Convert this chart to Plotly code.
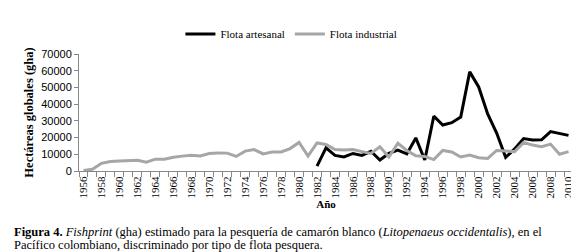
import plotly.graph_objects as go

years = list(range(1956, 2011))
industrial = [300, 1000, 4600, 5700, 6000, 6000, 6400, 5300, 7100, 7000,
              8200, 8900, 9400, 9000, 10500, 10800, 10700, 8700, 11900, 12800,
              10200, 11400, 11400, 13400, 17100, 8900, 16800, 15900, 12800, 12500,
              12800, 11600, 10500, 14500, 8400, 16600, 12300, 9100, 8700, 6800,
              12300, 11400, 8400, 9600, 7900, 7500, 12300, 11900, 11600, 17100,
              15500, 14500, 16100, 10000, 11600]
art_years = list(range(1982, 2011))
artesanal = [2900, 13800, 9300, 8400, 10500, 9300, 11800, 6600, 10500, 12500,
             10200, 19800, 6600, 32800, 27500, 28900, 32300, 59300, 50300, 34100,
             22700, 8200, 13200, 19400, 18600, 18700, 23600, 22300, 21300]
y_ticks = [0, 10000, 20000, 30000, 40000, 50000, 60000, 70000]
y_labels = [str(v) for v in y_ticks]
caption_1 = ("<b>Figura 4.</b> <i>Fishprint</i> (gha) estimado para la pesquería de camarón blanco "
             "(<i>Litopenaeus occidentalis</i>), en el")
caption_2 = "Pacífico colombiano, discriminado por tipo de flota pesquera."

serif = "Liberation Serif"
sans = "Liberation Sans"

fig = go.Figure()
fig.add_trace(go.Scatter(x=art_years, y=artesanal, mode="lines", name="Flota artesanal",
                         line=dict(color="#000000", width=3)))
fig.add_trace(go.Scatter(x=years, y=industrial, mode="lines", name="Flota industrial",
                         line=dict(color="#A6A6A6", width=3)))

fig.update_layout(
    width=579, height=252,
    margin=dict(l=71, r=14, t=32, b=89),
    paper_bgcolor="white", plot_bgcolor="white",
    showlegend=True,
    legend=dict(orientation="h", x=0.43, xanchor="center", y=1.17, yanchor="middle",
                font=dict(family=serif, size=11, color="black"),
                itemwidth=30, tracegroupgap=0, bgcolor="rgba(0,0,0,0)"),
    xaxis=dict(range=[1955.5, 2010.5], tickmode="linear", tick0=1956, dtick=2,
               tickangle=-90, ticks="", showgrid=False, zeroline=False,
               showline=True, linecolor="#888888", linewidth=1,
               tickfont=dict(family=serif, size=11, color="black"),
               minor=dict(ticks="outside", tick0=1955.5, dtick=1, ticklen=5,
                          tickcolor="#888888", showgrid=False),
               title=dict(text="<b>Año</b>", font=dict(family=serif, size=11, color="black"),
                          standoff=1)),
    yaxis=dict(range=[0, 70000], tickvals=y_ticks, ticktext=y_labels,
               showgrid=False, zeroline=False,
               showline=True, linecolor="#888888", linewidth=1,
               ticks="outside", ticklen=4, tickcolor="#888888",
               tickfont=dict(family=sans, size=11, color="black"),
               title=dict(text="<b>Hectáreas globales (gha)</b>",
                          font=dict(family=serif, size=12.5, color="black"), standoff=4)),
)

fig.add_annotation(
    xref="paper", yref="paper", x=-67/494, y=-(231-163)/131, xanchor="left", yanchor="middle",
    align="left", showarrow=False, text=caption_1,
    font=dict(family=serif, size=12.5, color="black"),
)
fig.add_annotation(
    xref="paper", yref="paper", x=-67/494, y=-(245.5-163)/131, xanchor="left", yanchor="middle",
    align="left", showarrow=False, text=caption_2,
    font=dict(family=serif, size=12.5, color="black"),
)

fig.write_html("out.html")
